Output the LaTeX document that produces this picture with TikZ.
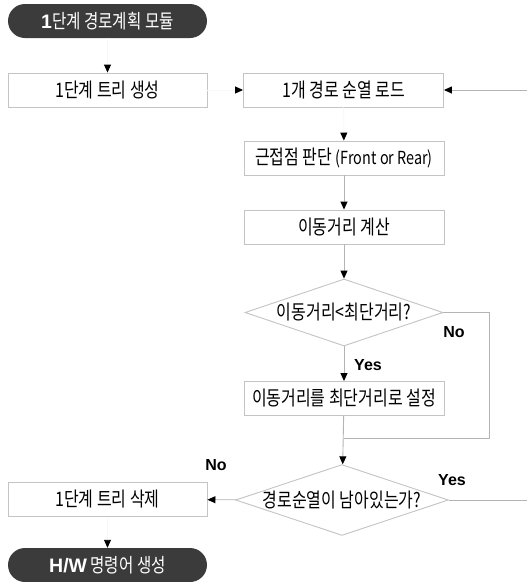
\documentclass[tikz,border=0pt]{standalone}
\usepackage{fontspec}
\usetikzlibrary{shapes.geometric,arrows.meta}
\newfontfamily\kr[FakeStretch=0.8]{Noto Sans CJK KR}
\newfontfamily\lab{Liberation Sans}
\definecolor{boxline}{HTML}{C4C4C4}
\definecolor{conline}{HTML}{B4B4B4}
\definecolor{faintline}{HTML}{F8F8F8}
\definecolor{termfill}{HTML}{3B3B3B}
\tikzset{
  tip/.style={-{Triangle[length=8pt,width=7pt,color=black]}},
  procbox/.style={draw=boxline,line width=0.9pt,fill=white,minimum width=200pt,minimum height=34pt,inner sep=0pt,font=\kr\fontsize{20}{22}\selectfont},
  termbox/.style={fill=termfill,rounded corners=17pt,minimum width=199pt,minimum height=34pt,inner sep=0pt,text=white,font=\kr\fontsize{19.5}{22}\selectfont},
  decbox/.style={diamond,aspect=3,draw=boxline,line width=0.9pt,fill=white,minimum width=198pt,minimum height=67pt,inner sep=0pt,font=\kr\fontsize{20}{22}\selectfont},
  conn/.style={tip,draw=conline,line width=0.9pt},
  faint/.style={tip,draw=faintline,line width=0.9pt},
  ynlabel/.style={font=\lab\bfseries\fontsize{16}{18}\selectfont,inner sep=0pt}
}
\begin{document}
\begin{tikzpicture}[x=1pt,y=-1pt]
\useasboundingbox (0,0) rectangle (527,582);
\node[termbox] (start) at (107.5,21) {{\lab\bfseries 1}단계 경로계획 모듈};
\node[procbox,minimum width=199pt] (tree) at (107.5,90) {1단계 트리 생성};
\node[procbox] (load) at (343.5,90) {1개 경로 순열 로드};
\node[procbox] (near) at (344,158) {근접점 판단 {\fontsize{18}{20}\selectfont(Front or Rear)}};
\node[procbox] (calc) at (344,227) {이동거리 계산};
\node[decbox] (cmp) at (344,312.5) {이동거리<최단거리?};
\node[procbox] (set) at (344,398.5) {이동거리를 최단거리로 설정};
\node[decbox] (left) at (342,500) {경로순열이 남아있는가?};
\node[procbox,minimum width=199pt] (del) at (107.5,499.5) {1단계 트리 삭제};
\node[termbox] (end) at (107.5,565) {{\lab\bfseries H/W} 명령어 생성};
\coordinate (inR) at (527,90);
\coordinate (outR) at (527,500);
\coordinate (noX) at (489,312.5);
\coordinate (join) at (344,438);

\draw[faint] (start) -- (tree);
\draw[faint] (tree) -- (load);
\draw[conn] (inR) -- (load);
\draw[faint] (load) -- (near);
\draw[conn] (near) -- (calc);
\draw[conn] (calc) -- (cmp);
\draw[conn] (cmp) -- (set);
\draw[conn] (set) -- (left);
\draw[draw=conline,line width=0.9pt] (cmp.east) -- (noX) |- (join);
\draw[conn] (left) -- (del);
\draw[draw=conline,line width=0.9pt] (left.east) -- (outR);
\draw[faint] (del) -- (end);

\node[ynlabel] (no1) at (454,332) {No};
\node[ynlabel] (yes1) at (368,365) {Yes};
\node[ynlabel] (no2) at (216,465) {No};
\node[ynlabel] (yes2) at (452,480) {Yes};
\end{tikzpicture}
\end{document}
